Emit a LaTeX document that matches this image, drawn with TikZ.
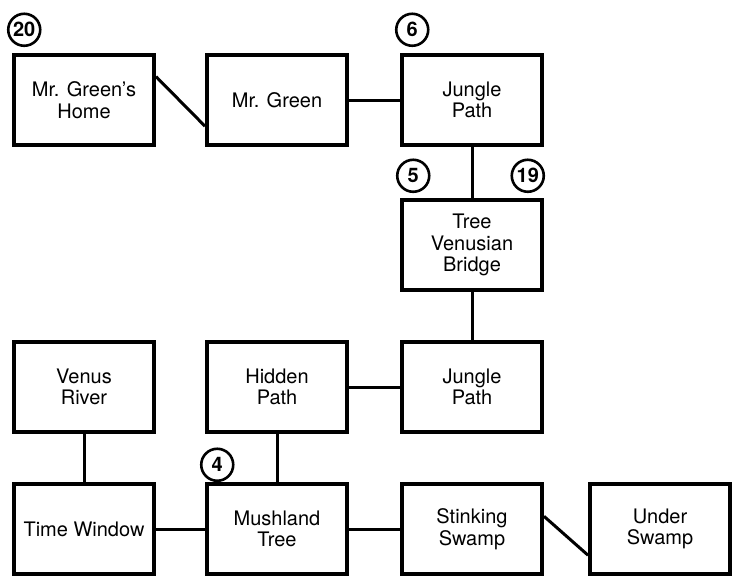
\documentclass[tikz,border=0pt]{standalone}
\usepackage{fontspec}
\setsansfont{TeX Gyre Heros}
\usepackage{tikz}
\usetikzlibrary{positioning}

\begin{document}
\begin{tikzpicture}[
  x=0.5pt, y=-0.5pt,
  room/.style={draw, line width=2pt, minimum width=70pt, minimum height=45pt, align=center, inner sep=2pt, font=\fontsize{10}{10.8}\selectfont\sffamily},
  num/.style={draw, circle, line width=1.3pt, minimum size=16pt, inner sep=0pt, font=\fontsize{10}{10}\selectfont\sffamily\bfseries},
  link/.style={line width=1.5pt, black}
]
  \useasboundingbox (0,0) rectangle (743,578);
  \node[room] (home) at (84,100) {Mr. Green's\\Home};
  \node[room, right=24.5pt of home] (green) {Mr. Green};
  \node[room, right=25.5pt of green] (jtop) {Jungle\\Path};
  \node[room, below=25.5pt of jtop] (bridge) {Tree\\Venusian\\Bridge};
  \node[room, below=24pt of bridge] (jmid) {Jungle\\Path};
  \node[room, left=25.5pt of jmid] (hidden) {Hidden\\Path};
  \node[room, left=24.5pt of hidden] (river) {Venus\\River};
  \node[room, below=24pt of hidden] (mush) {Mushland\\Tree};
  \node[room, left=24.5pt of mush] (window) {Time Window};
  \node[room, right=25.5pt of mush] (stink) {Stinking\\Swamp};
  \node[room, right=22pt of stink] (under) {Under\\Swamp};

  % numbered markers
  \node[num, above right=5.5pt and 0pt of home.north west] (n20) {20};
  \node[num, above right=5.5pt and 0pt of jtop.north west] (n6) {6};
  \node[num, above right=5pt and 0.5pt of bridge.north west] (n5) {5};
  \node[num, above left=5pt and 2pt of bridge.north east] (n19) {19};
  \node[num, above right=2.5pt and 0pt of mush.north west] (n4) {4};

  \draw[link] (home.18) -- (green.200);
  \draw[link] (green) -- (jtop);
  \draw[link] (jtop) -- (bridge);
  \draw[link] (bridge) -- (jmid);
  \draw[link] (hidden) -- (jmid);
  \draw[link] (hidden) -- (mush);
  \draw[link] (river) -- (window);
  \draw[link] (window) -- (mush);
  \draw[link] (mush) -- (stink);
  \draw[link] (stink.10) -- (under.200);
\end{tikzpicture}
\end{document}
